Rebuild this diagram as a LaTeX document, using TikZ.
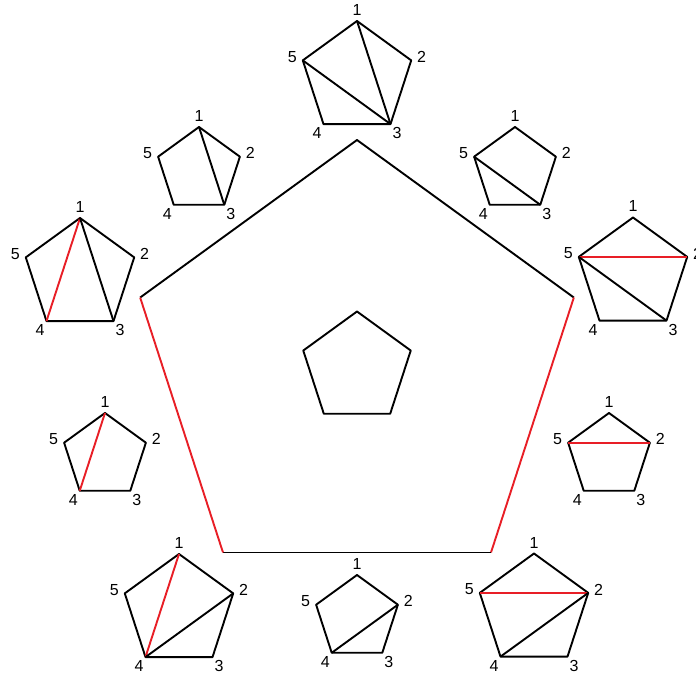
\documentclass[tikz,border=0pt]{standalone}
\usepackage{fontspec}
\setmainfont{Liberation Sans}
\definecolor{diagred}{RGB}{232,30,38}

\newcommand{\pentagon}[3]{%
  \foreach \k/\a in {1/90,2/18,3/-54,4/-126,5/162} {
    \coordinate (#1\k) at ([shift={(\a:#3)}]#2);
    \node[vlabel] (#1l\k) at ([shift={(\a:#3+11)}]#2) {\k};
  }
  \draw[side] (#11) -- (#12) -- (#13) -- (#14) -- (#15) -- cycle;
}

\begin{document}
\begin{tikzpicture}[x=1pt,y=1pt]
        \tikzstyle{side}=[line width=1.9pt, line join=round]
        \tikzstyle{flip}=[side, diagred]
        \tikzstyle{vlabel}=[inner sep=0pt, font=\fontsize{16}{18}\selectfont]
        \useasboundingbox (0,0) rectangle (696,677);

        \foreach \k/\a in {1/90,2/18,3/-54,4/-126,5/162} {
          \coordinate (o\k) at ([shift={(\a:228)}]357,309);
          \coordinate (i\k) at ([shift={(\a:56.5)}]357,309);
        }
        \draw[side] (o5) -- (o1) -- (o2);
        \draw[flip] (o2) -- (o3);
        \draw[side] (o3) -- (o4);
        \draw[flip] (o4) -- (o5);
        \draw[side] (i1) -- (i2) -- (i3) -- (i4) -- (i5) -- cycle;

        \pentagon{t}{357,599}{57}
        \draw[side] (t1) -- (t3) (t5) -- (t3);

        \pentagon{ul}{199,507}{43}
        \draw[side] (ul1) -- (ul3);

        \pentagon{ur}{515,507}{43}
        \draw[side] (ur5) -- (ur3);

        \pentagon{l}{80,402}{57}
        \draw[flip] (l1) -- (l4);
        \draw[side] (l1) -- (l3);

        \pentagon{r}{633,402.5}{57}
        \draw[flip] (r5) -- (r2);
        \draw[side] (r5) -- (r3);

        \pentagon{ml}{105,221}{43}
        \draw[flip] (ml1) -- (ml4);

        \pentagon{mr}{609,221}{43}
        \draw[flip] (mr5) -- (mr2);

        \pentagon{bl}{179,66}{57}
        \draw[flip] (bl1) -- (bl4);
        \draw[side] (bl4) -- (bl2);

        \pentagon{b}{357,59}{43}
        \draw[side] (b4) -- (b2);

        \pentagon{br}{534,66.5}{57}
        \draw[flip] (br5) -- (br2);
        \draw[side] (br4) -- (br2);
    \end{tikzpicture}
\end{document}
